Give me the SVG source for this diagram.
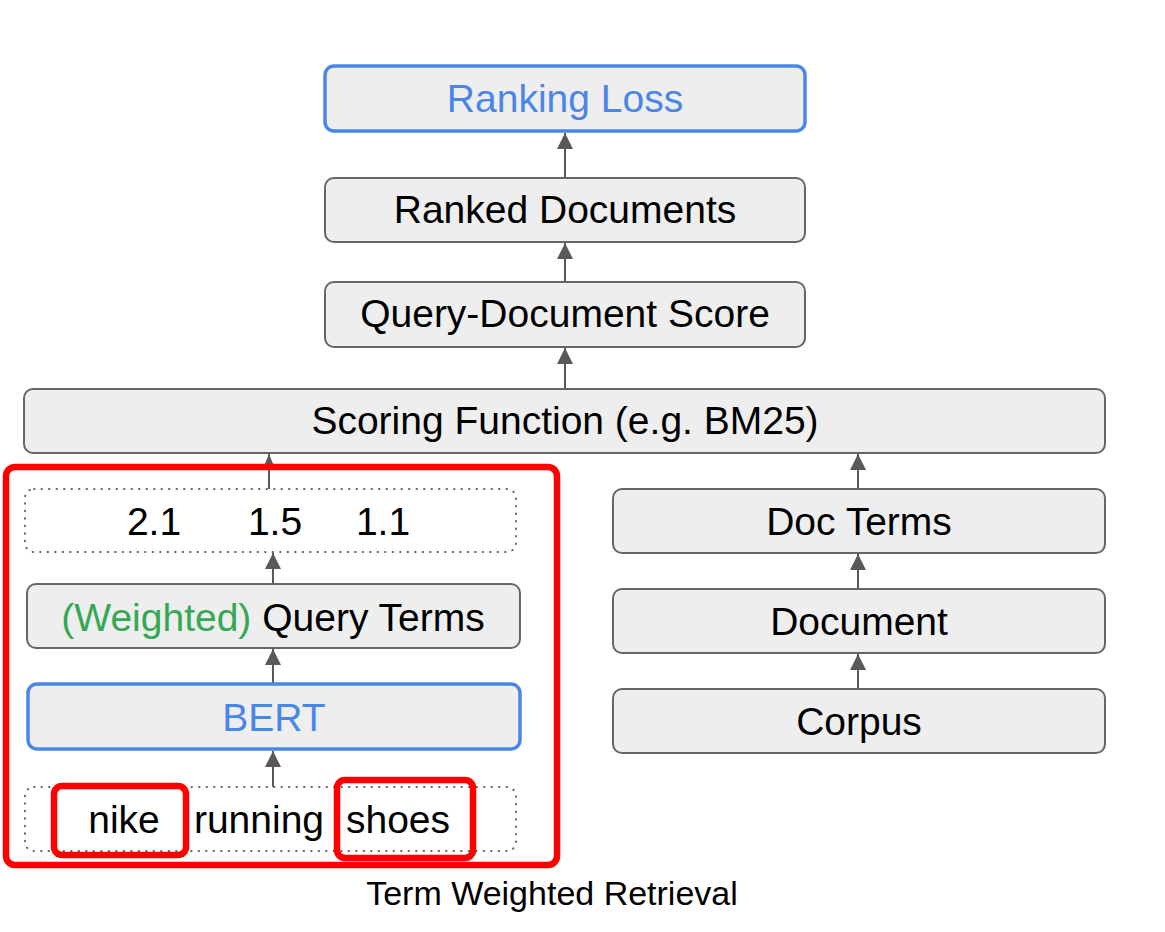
<svg xmlns="http://www.w3.org/2000/svg" width="1165" height="932" viewBox="0 0 1165 932">
<defs>
<style>
.box{fill:#eeeeee;stroke:#666666;stroke-width:2}
.blue{fill:#eeeeee;stroke:#4a86e8;stroke-width:3.5}
.dot{fill:none;stroke:#666666;stroke-width:2;stroke-dasharray:0.5 7;stroke-linecap:round}
.red{fill:none;stroke:#ff0000;stroke-width:6.5}
.t{font-family:"Liberation Sans",Arial,sans-serif;font-size:39px;fill:#000000;text-anchor:middle}
.tb{fill:#4a86e8}
.g{fill:#34a853}
.conn{stroke:#595959;stroke-width:2;fill:none}
</style>
<marker id="ah" markerUnits="userSpaceOnUse" viewBox="0 0 16 16" markerWidth="16" markerHeight="16" refX="16" refY="8" orient="auto">
<path d="M0,0 L16,8 L0,16 z" fill="#595959"/>
</marker>
<marker id="ahs" markerUnits="userSpaceOnUse" viewBox="0 0 12 10" markerWidth="12" markerHeight="10" refX="12" refY="5" orient="auto">
<path d="M0,0 L12,5 L0,10 z" fill="#595959"/>
</marker>
</defs>
<rect width="1165" height="932" fill="#ffffff"/>

<g id="connectors">
<line class="conn" x1="565" y1="178" x2="565" y2="133" marker-end="url(#ah)"/>
<line class="conn" x1="565" y1="282" x2="565" y2="243" marker-end="url(#ah)"/>
<line class="conn" x1="565" y1="389" x2="565" y2="348" marker-end="url(#ah)"/>
<line class="conn" x1="269" y1="489" x2="269" y2="454" marker-end="url(#ahs)"/>
<line class="conn" x1="273" y1="584" x2="273" y2="553" marker-end="url(#ah)"/>
<line class="conn" x1="273" y1="683" x2="273" y2="649" marker-end="url(#ah)"/>
<line class="conn" x1="273" y1="787" x2="273" y2="751" marker-end="url(#ah)"/>
<line class="conn" x1="858" y1="489" x2="858" y2="454" marker-end="url(#ah)"/>
<line class="conn" x1="858" y1="589" x2="858" y2="554" marker-end="url(#ah)"/>
<line class="conn" x1="858" y1="689" x2="858" y2="654" marker-end="url(#ah)"/>
</g>

<g id="ranking-loss">
<rect class="blue" x="325" y="66" width="480" height="65" rx="9"/>
<text class="t tb" x="565" y="112">Ranking Loss</text>
</g>
<g id="ranked-documents">
<rect class="box" x="325" y="178" width="480" height="64" rx="9"/>
<text class="t" x="565" y="223">Ranked Documents</text>
</g>
<g id="query-document-score">
<rect class="box" x="325" y="282" width="480" height="65" rx="9"/>
<text class="t" x="565" y="327">Query-Document Score</text>
</g>
<g id="scoring-function">
<rect class="box" x="24" y="389" width="1081" height="64" rx="9"/>
<text class="t" x="565" y="434">Scoring Function (e.g. BM25)</text>
</g>

<g id="term-weighted-retrieval">
<rect class="red" x="6" y="467" width="551" height="398" rx="9"/>
<text class="t" style="font-size:34px" x="552" y="905">Term Weighted Retrieval</text>
</g>
<g id="weights">
<rect class="dot" x="25" y="489" width="491" height="63" rx="9"/>
<text class="t" x="154" y="535">2.1</text>
<text class="t" x="275" y="535">1.5</text>
<text class="t" x="383" y="535">1.1</text>
</g>
<g id="query-terms">
<rect class="box" x="27" y="584" width="493" height="64" rx="9"/>
<text class="t" x="273" y="631"><tspan class="g">(Weighted)</tspan> Query Terms</text>
</g>
<g id="bert">
<rect class="blue" x="28" y="684" width="492" height="65" rx="9"/>
<text class="t tb" x="274" y="731">BERT</text>
</g>
<g id="query">
<rect class="dot" x="25" y="787" width="491" height="64" rx="9"/>
<text class="t" x="124" y="833">nike</text>
<text class="t" x="259" y="833">running</text>
<text class="t" x="398" y="833">shoes</text>
<rect class="red" x="54" y="786" width="132" height="69" rx="8"/>
<rect class="red" x="337" y="780" width="136" height="78" rx="8"/>
</g>

<g id="doc-terms">
<rect class="box" x="613" y="489" width="492" height="64" rx="9"/>
<text class="t" x="859" y="535">Doc Terms</text>
</g>
<g id="document">
<rect class="box" x="613" y="589" width="492" height="64" rx="9"/>
<text class="t" x="859" y="635">Document</text>
</g>
<g id="corpus">
<rect class="box" x="613" y="689" width="492" height="64" rx="9"/>
<text class="t" x="859" y="735">Corpus</text>
</g>
</svg>
